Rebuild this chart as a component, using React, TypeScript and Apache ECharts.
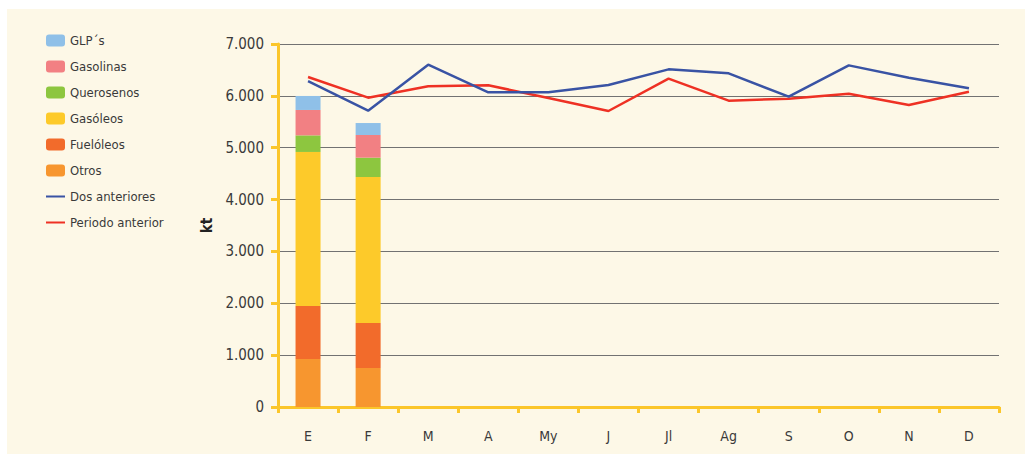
import React, { useEffect, useRef } from "react";
import * as echarts from "echarts";

const months = ["E", "F", "M", "A", "My", "J", "Jl", "Ag", "S", "O", "N", "D"];
const otros = [925, 752];
const fueloleos = [1023, 868];
const gasoleos = [2970, 2815];
const querosenos = [320, 373];
const gasolinas = [490, 437];
const glps = [270, 231];
const dosAnteriores = [6286, 5714, 6601, 6068, 6068, 6209, 6511, 6434, 5984, 6588, 6350, 6145];
const periodoAnterior = [6363, 5965, 6184, 6203, 5960, 5708, 6331, 5907, 5945, 6042, 5823, 6080];
const barLegend = ["GLP´s", "Gasolinas", "Querosenos", "Gasóleos", "Fuelóleos", "Otros"];
const lineLegend = ["Dos anteriores", "Periodo anterior"];

const FONT = "'Liberation Sans Narrow', 'DejaVu Sans Condensed', 'Roboto Condensed', 'Noto Sans', sans-serif";
const TEXT = "#3a3a3a";

export default function App() {
  const ref = useRef<HTMLDivElement>(null);
  useEffect(() => {
    if (!ref.current) return;
    const chart = echarts.init(ref.current, undefined, { renderer: "svg" });
    const bar = (name: string, data: number[], color: string) => ({
      name,
      type: "bar",
      stack: "total",
      data,
      barWidth: 25,
      itemStyle: { color },
      emphasis: { disabled: true },
    });
    chart.setOption({
      animation: false,
      backgroundColor: "transparent",
      textStyle: { fontFamily: FONT },
      grid: { left: 271, right: 26, top: 35, bottom: 47 },
      legend: {
        orient: "vertical",
        left: 38,
        top: 25,
        padding: 0,
        itemWidth: 19,
        itemHeight: 12,
        itemGap: 13,
        data: [
          ...barLegend.map((n) => ({ name: n })),
          ...lineLegend.map((n) => ({ name: n, itemStyle: { opacity: 0 } })),
        ],
        textStyle: { fontFamily: FONT, fontSize: 13, color: TEXT },
        selectedMode: false,
      },
      xAxis: {
        type: "category",
        data: months,
        axisLine: { lineStyle: { color: "#fbc62a", width: 3 } },
        axisTick: { show: true, length: 6, lineStyle: { color: "#fbc62a", width: 3 } },
        axisLabel: { color: TEXT, fontFamily: FONT, fontSize: 14, margin: 22 },
      },
      yAxis: {
        type: "value",
        min: 0,
        max: 7000,
        interval: 1000,
        name: "kt",
        nameLocation: "middle",
        nameRotate: 90,
        nameGap: 58,
        nameTextStyle: { color: "#222", fontWeight: "bold", fontFamily: FONT, fontSize: 15 },
        axisLine: { show: true, lineStyle: { color: "#fbc62a", width: 3 } },
        axisTick: { show: true, length: 7, lineStyle: { color: "#fbc62a", width: 3 } },
        axisLabel: {
          color: TEXT,
          fontFamily: FONT,
          fontSize: 15,
          margin: 14,
          formatter: (v: number) => v.toLocaleString("de-DE"),
        },
        splitLine: { lineStyle: { color: "#727272", width: 1 } },
      },
      series: [
        bar("Otros", otros, "#f7962f"),
        bar("Fuelóleos", fueloleos, "#f26b2b"),
        bar("Gasóleos", gasoleos, "#fdca2a"),
        bar("Querosenos", querosenos, "#8dc63f"),
        bar("Gasolinas", gasolinas, "#f28083"),
        bar("GLP´s", glps, "#8fc0e8"),
        {
          name: "Dos anteriores",
          type: "line",
          data: dosAnteriores,
          symbol: "none",
          lineStyle: { color: "#3953a4", width: 2.5 },
          itemStyle: { color: "#3953a4" },
          z: 5,
        },
        {
          name: "Periodo anterior",
          type: "line",
          data: periodoAnterior,
          symbol: "none",
          lineStyle: { color: "#ee3124", width: 2.5 },
          itemStyle: { color: "#ee3124" },
          z: 4,
        },
      ],
    });
    return () => chart.dispose();
  }, []);
  return (
    <div style={{ position: "fixed", left: 0, top: 0, width: 1025, height: 454, background: "#ffffff" }}>
      <div style={{ position: "absolute", left: 7, top: 9, width: 1018, height: 445, background: "#fdf8e7" }}>
        <div ref={ref} style={{ width: 1018, height: 445 }} />
      </div>
    </div>
  );
}
